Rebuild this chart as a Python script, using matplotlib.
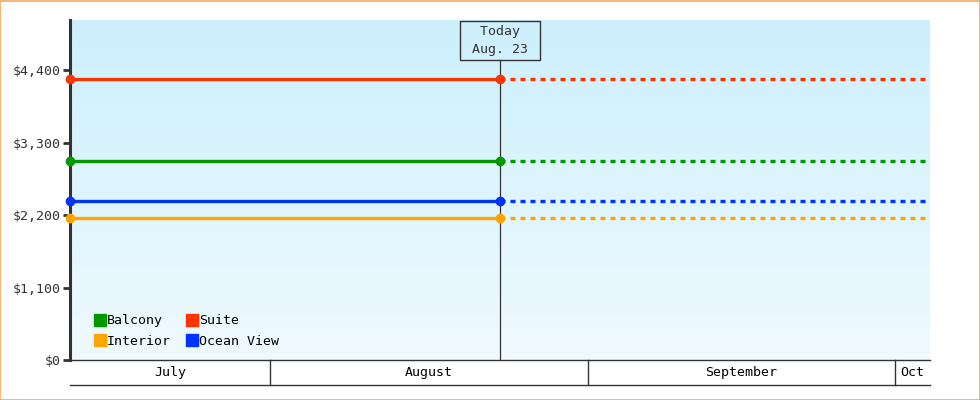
import datetime as dt

import matplotlib
matplotlib.use("Agg")
import matplotlib.pyplot as plt
import matplotlib.dates as mdates
import matplotlib.transforms as mtransforms
import numpy as np
from matplotlib.lines import Line2D
from matplotlib.patches import Rectangle

# data
cabins = ["Balcony", "Interior", "Suite", "Ocean View"]
prices = [3020, 2150, 4260, 2410]
colors = ["#009900", "#ffa500", "#ff3300", "#0033ff"]

start = dt.datetime(2024, 7, 12, 12)
end = dt.datetime(2024, 10, 4, 10)
today = dt.datetime(2024, 8, 23, 10)

month_starts = [dt.datetime(2024, 8, 1), dt.datetime(2024, 9, 1), dt.datetime(2024, 10, 1)]
month_labels = ["July", "August", "September", "Oct"]

y_ticks = [0, 1100, 2200, 3300, 4400]
y_max = 5160

plt.rcParams["font.family"] = ["DejaVu Sans Mono"]
plt.rcParams["font.size"] = 9.5
dark = "#333333"

fig = plt.figure(figsize=(9.8, 4), dpi=100)
fig.patches.append(Rectangle((0.0005, 0.001), 0.999, 0.9975, transform=fig.transFigure,
                             fill=False, edgecolor="#eeaa66", linewidth=1.2))
ax = fig.add_axes([70 / 980, 40 / 400, 860 / 980, 340 / 400])

x0, x1 = mdates.date2num(start), mdates.date2num(end)
xt = mdates.date2num(today)

# gradient background (top darker, bottom lighter)
grad = np.linspace(0, 1, 256).reshape(-1, 1)
top = np.array([0.80, 0.94, 0.99])
bot = np.array([0.94, 0.98, 1.0])
img = top * (1 - grad)[..., None] + bot * grad[..., None]
ax.imshow(img, extent=[x0, x1, 0, y_max], aspect="auto", origin="upper", zorder=0)

for name, p, c in zip(cabins, prices, colors):
    ax.plot([x0, xt], [p, p], color=c, lw=2.4, solid_capstyle="butt", zorder=3)
    ax.plot([xt, x1], [p, p], color=c, lw=2.4, linestyle=(0, (1.5, 1.5)),
            dash_capstyle="butt", zorder=3)
    ax.plot([x0, xt], [p, p], "o", color=c, ms=6, zorder=4, clip_on=False)

# today line and label
ax.plot([xt, xt], [0, y_max * 0.883], color=dark, lw=0.9, zorder=2)
ax.text(xt, y_max * 0.941, f" Today \n {today:%b}. {today.day} ", ha="center", va="center",
        color=dark, linespacing=1.5,
        bbox=dict(boxstyle="square,pad=0.3", facecolor="none", edgecolor=dark, linewidth=1))

ax.set_xlim(x0, x1)
ax.set_ylim(0, y_max)
ax.set_yticks(y_ticks)
ax.set_yticklabels([f"${v:,}" for v in y_ticks], color=dark)
ax.tick_params(axis="y", length=5, width=2, color=dark, pad=2)
ax.set_xticks([])
for s in ["top", "right"]:
    ax.spines[s].set_visible(False)
ax.spines["left"].set_linewidth(2.2)
ax.spines["left"].set_color(dark)
ax.spines["bottom"].set_linewidth(1)
ax.spines["bottom"].set_color(dark)

# month band below the axis
trans = mtransforms.blended_transform_factory(ax.transData, ax.transAxes)
band = -25 / 340
ax.plot([x0, x1], [band, band], color=dark, lw=1, transform=trans, clip_on=False)
edges = [x0] + [mdates.date2num(m) for m in month_starts] + [x1]
for m in month_starts:
    xm = mdates.date2num(m)
    ax.plot([xm, xm], [0, band], color=dark, lw=1, transform=trans, clip_on=False)
for lab, a, b in zip(month_labels, edges[:-1], edges[1:]):
    ax.text((a + b) / 2, band / 2, lab, ha="center", va="center", color="black",
            transform=trans)

handles = [Line2D([], [], marker="s", linestyle="none", color=c, ms=8) for c in colors]
ax.legend(handles, cabins, ncol=2, loc="lower left", frameon=False,
          bbox_to_anchor=(0.02, 0.009), handlelength=0.6, handletextpad=0.2,
          columnspacing=1.3, labelspacing=0.55, borderaxespad=0.3)

fig.savefig("out.png", dpi=100)
